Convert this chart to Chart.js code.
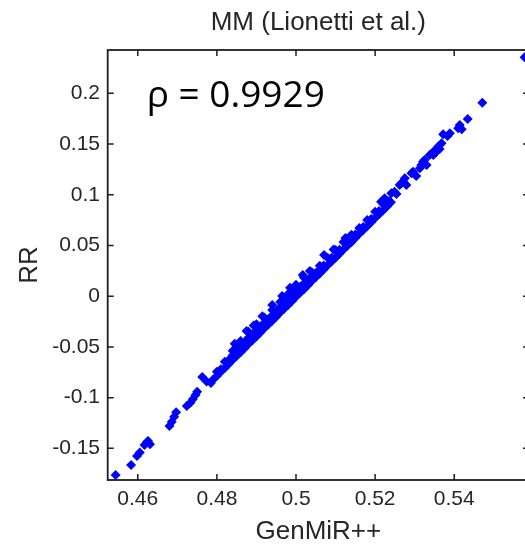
<!DOCTYPE html>
<html><head><meta charset="utf-8">
<script src="https://cdn.jsdelivr.net/npm/chart.js@4.4.1/dist/chart.umd.min.js"></script>
<style>html,body{margin:0;padding:0;background:#fff;overflow:hidden;}#wrap{width:525px;height:547px;overflow:hidden;position:relative;}canvas{display:block;}</style>
</head><body><div id="wrap"><canvas id="c" width="560" height="547"></canvas></div>
<script>
const chartTitle = 'MM (Lionetti et al.)';
const xAxisTitle = 'GenMiR++';
const yAxisTitle = 'RR';
const rhoLabel = 'ρ = 0.9929';
const xTicks = [0.46, 0.48, 0.50, 0.52, 0.54];
const xTickLabels = ['0.46', '0.48', '0.5', '0.52', '0.54'];
const yTicks = [-0.15, -0.1, -0.05, 0, 0.05, 0.1, 0.15, 0.2];
const yTickLabels = ['-0.15', '-0.1', '-0.05', '0', '0.05', '0.1', '0.15', '0.2'];
const xRange = [0.4524, 0.5589];
const yRange = [-0.1812, 0.2427];

const tailLowX = [0.4544, 0.4583, 0.4598, 0.4605, 0.4617, 0.4623, 0.4626, 0.4631, 0.4680, 0.4686, 0.4692, 0.4697, 0.4724, 0.4733, 0.4739, 0.4746, 0.4750, 0.4763, 0.4774, 0.4785];
const tailLowY = [-0.1763, -0.1664, -0.1575, -0.1541, -0.1467, -0.1440, -0.1428, -0.1460, -0.1280, -0.1237, -0.1188, -0.1145, -0.1083, -0.1050, -0.1016, -0.0974, -0.0942, -0.0797, -0.0841, -0.0856];

const bandLowerX = [0.479, 0.480, 0.481, 0.482, 0.483, 0.484, 0.485, 0.486, 0.487, 0.488, 0.489, 0.490, 0.491, 0.492, 0.493, 0.494, 0.495, 0.496, 0.497, 0.498, 0.499, 0.500, 0.501, 0.502, 0.503, 0.504, 0.505, 0.506, 0.507, 0.508, 0.509, 0.510, 0.511, 0.512, 0.513, 0.514, 0.515, 0.516, 0.517, 0.518, 0.519, 0.520, 0.521, 0.522, 0.523, 0.524];
const bandLowerY = [-0.0823, -0.0786, -0.0745, -0.0709, -0.0668, -0.0627, -0.0590, -0.0553, -0.0513, -0.0472, -0.0435, -0.0398, -0.0357, -0.0317, -0.0280, -0.0243, -0.0202, -0.0161, -0.0124, -0.0088, -0.0047, -0.0006, 0.0031, 0.0068, 0.0109, 0.0149, 0.0186, 0.0223, 0.0264, 0.0305, 0.0341, 0.0378, 0.0419, 0.0460, 0.0497, 0.0533, 0.0574, 0.0615, 0.0652, 0.0689, 0.0729, 0.0770, 0.0807, 0.0844, 0.0885, 0.0925];

const bandMiddleX = [0.481, 0.483, 0.485, 0.487, 0.489, 0.491, 0.493, 0.495, 0.497, 0.499, 0.501, 0.503, 0.505, 0.507, 0.509, 0.511, 0.513, 0.515, 0.517, 0.519, 0.521, 0.523, 0.484, 0.486, 0.488, 0.490, 0.492, 0.494, 0.496, 0.498, 0.500, 0.502, 0.504, 0.506];
const bandMiddleY = [-0.0720, -0.0630, -0.0540, -0.0454, -0.0374, -0.0300, -0.0227, -0.0149, -0.0071, 0.0011, 0.0091, 0.0160, 0.0228, 0.0302, 0.0379, 0.0457, 0.0534, 0.0607, 0.0682, 0.0760, 0.0840, 0.0918, -0.0581, -0.0498, -0.0410, -0.0338, -0.0263, -0.0191, -0.0109, -0.0034, 0.0055, 0.0125, 0.0194, 0.0261];

const bandUpperX = [0.480, 0.482, 0.484, 0.486, 0.488, 0.490, 0.492, 0.494, 0.496, 0.498, 0.500, 0.502, 0.504, 0.506, 0.508, 0.510, 0.512, 0.514, 0.516, 0.518, 0.520, 0.522, 0.4893, 0.4940, 0.5017, 0.5071];
const bandUpperY = [-0.0744, -0.0647, -0.0537, -0.0441, -0.0350, -0.0276, -0.0211, -0.0136, -0.0058, 0.0022, 0.0114, 0.0185, 0.0237, 0.0301, 0.0379, 0.0456, 0.0534, 0.0605, 0.0673, 0.0751, 0.0833, 0.0912, -0.0288, -0.0087, 0.0209, 0.0406];

const bandBumpX = [0.4845, 0.4875, 0.4915, 0.4965, 0.4985, 0.5035, 0.5095, 0.5125];
const bandBumpY = [-0.0468, -0.0343, -0.0197, 0.0002, 0.0082, 0.0249, 0.0460, 0.0573];

const tailHighX = [0.5215, 0.5224, 0.5236, 0.5241, 0.5249, 0.5254, 0.5262, 0.5266, 0.5271, 0.5275, 0.5279, 0.5292, 0.5296, 0.5304, 0.5313, 0.5317, 0.5321, 0.5325, 0.5330, 0.5338, 0.5347, 0.5347, 0.5351, 0.5355, 0.5359, 0.5363, 0.5368, 0.5372, 0.5383, 0.5389, 0.5410, 0.5414, 0.5419, 0.5434, 0.5471, 0.5578];
const tailHighY = [0.0932, 0.0965, 0.0939, 0.1014, 0.1030, 0.1008, 0.1096, 0.1113, 0.1129, 0.1162, 0.1096, 0.1212, 0.1227, 0.1185, 0.1261, 0.1293, 0.1326, 0.1343, 0.1293, 0.1392, 0.1425, 0.1392, 0.1409, 0.1441, 0.1474, 0.1451, 0.1507, 0.1596, 0.1579, 0.1606, 0.1655, 0.1688, 0.1645, 0.1747, 0.1908, 0.2355];

function pairs(xs, ys) { return xs.map((x, i) => ({x: x, y: ys[i]})); }
const points = [].concat(
  pairs(tailLowX, tailLowY),
  pairs(bandLowerX, bandLowerY),
  pairs(bandMiddleX, bandMiddleY),
  pairs(bandUpperX, bandUpperY),
  pairs(bandBumpX, bandBumpY),
  pairs(tailHighX, tailHighY)
);

const textColor = '#262626';
const sansFont = '"Liberation Sans", Arial, Helvetica, sans-serif';

const boxPlugin = {
  id: 'matlabBox',
  afterDatasetsDraw(chart) {
    const {ctx, chartArea: a, scales} = chart;
    const xs = scales.x, ys = scales.y;
    ctx.save();
    ctx.strokeStyle = '#1e1e1e';
    ctx.lineWidth = 1.8;
    ctx.strokeRect(a.left, a.top, a.right - a.left, a.bottom - a.top);
    ctx.lineWidth = 1.5;
    const L = 6;
    ctx.beginPath();
    xTicks.forEach(v => {
      const p = xs.getPixelForValue(v);
      ctx.moveTo(p, a.bottom); ctx.lineTo(p, a.bottom - L);
      ctx.moveTo(p, a.top); ctx.lineTo(p, a.top + L);
    });
    yTicks.forEach(v => {
      const p = ys.getPixelForValue(v);
      ctx.moveTo(a.left, p); ctx.lineTo(a.left + L, p);
      ctx.moveTo(a.right, p); ctx.lineTo(a.right - L, p);
    });
    ctx.stroke();
    ctx.fillStyle = '#000';
    ctx.font = '37px "Open Sans", Lato, sans-serif';
    ctx.textAlign = 'left';
    ctx.textBaseline = 'alphabetic';
    ctx.fillText(rhoLabel, a.left + 39, a.top + 56.7);
    ctx.restore();
  }
};

new Chart(document.getElementById('c'), {
  type: 'scatter',
  data: {
    datasets: [{
      data: points,
      pointStyle: 'rectRot',
      pointRadius: 5,
      pointHoverRadius: 5,
      backgroundColor: '#0000ff',
      borderColor: '#0000ff',
      borderWidth: 0
    }]
  },
  options: {
    responsive: false,
    animation: false,
    devicePixelRatio: 1,
    layout: {padding: {left: 0, right: 31, top: 0, bottom: 0}},
    plugins: {
      legend: {display: false},
      tooltip: {enabled: false},
      title: {
        display: true,
        text: chartTitle,
        fullSize: false,
        color: textColor,
        font: {family: sansFont, size: 26, weight: 'normal', lineHeight: 1.2},
        padding: {top: 7.4, bottom: 11.4}
      }
    },
    scales: {
      x: {
        type: 'linear',
        min: xRange[0], max: xRange[1],
        grid: {display: false, drawTicks: false},
        border: {display: false},
        afterBuildTicks: s => { s.ticks = xTicks.map(v => ({value: v})); },
        afterFit: s => { s.height = 67; },
        ticks: {
          autoSkip: false, maxRotation: 0, padding: 7, color: textColor,
          font: {family: sansFont, size: 21, lineHeight: 1.2},
          callback: (v) => { const i = xTicks.findIndex(t => Math.abs(t - v) < 1e-9); return i >= 0 ? xTickLabels[i] : ''; }
        },
        title: {display: true, text: xAxisTitle, color: textColor, padding: {top: 0, bottom: 0},
          font: {family: sansFont, size: 26, lineHeight: 1.2}}
      },
      y: {
        type: 'linear',
        min: yRange[0], max: yRange[1],
        grid: {display: false, drawTicks: false},
        border: {display: false},
        afterBuildTicks: s => { s.ticks = yTicks.map(v => ({value: v})); },
        afterFit: s => { s.width = 107.7; },
        ticks: {
          autoSkip: false, padding: 7.7, color: textColor,
          font: {family: sansFont, size: 21, lineHeight: 1.2},
          callback: (v) => { const i = yTicks.findIndex(t => Math.abs(t - v) < 1e-9); return i >= 0 ? yTickLabels[i] : ''; }
        },
        title: {display: true, text: yAxisTitle, color: textColor, padding: {top: 14.4, bottom: 0},
          font: {family: sansFont, size: 26, lineHeight: 1.2}}
      }
    }
  },
  plugins: [boxPlugin]
});
</script>
</body></html>
